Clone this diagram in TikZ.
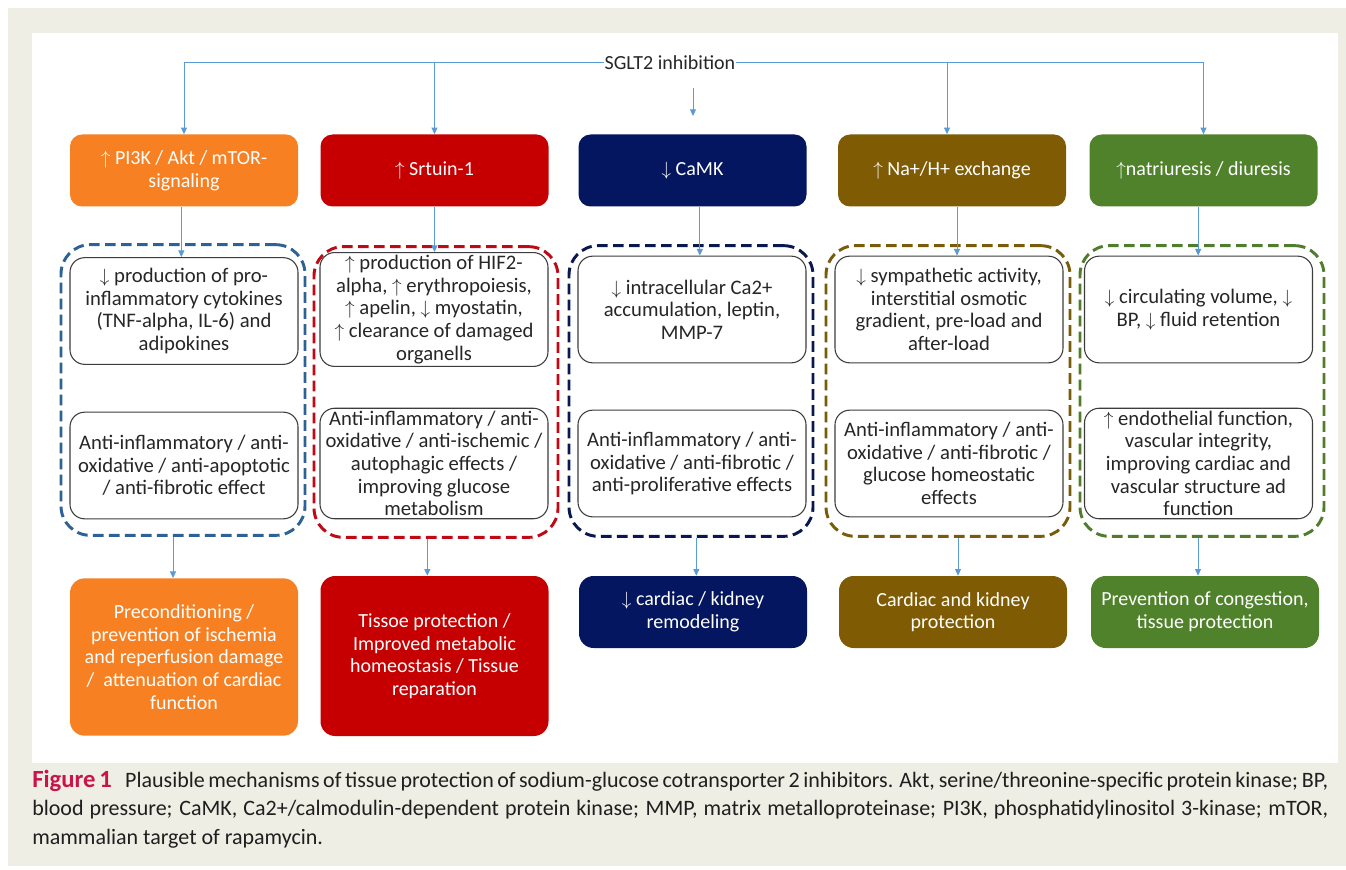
\documentclass[tikz,border=0pt]{standalone}
\usepackage{fontspec}
\setmainfont{Carlito}
\usetikzlibrary{arrows.meta}
\definecolor{bgbeige}{RGB}{238,238,228}
\definecolor{cOr}{RGB}{247,128,34}
\definecolor{cRd}{RGB}{198,0,0}
\definecolor{cNv}{RGB}{4,22,96}
\definecolor{cBr}{RGB}{127,92,4}
\definecolor{cGr}{RGB}{80,130,44}
\definecolor{dBl}{RGB}{46,98,150}
\definecolor{dRd}{RGB}{190,10,20}
\definecolor{dNv}{RGB}{10,24,80}
\definecolor{dBr}{RGB}{120,92,10}
\definecolor{dGr}{RGB}{80,125,45}
\definecolor{connc}{RGB}{91,155,213}
\definecolor{figred}{RGB}{200,20,72}
\definecolor{boxline}{RGB}{60,60,60}
\newcommand{\ua}{$\uparrow$}
\newcommand{\da}{$\downarrow$}
\begin{document}
\begin{tikzpicture}[x=0.75pt,y=-0.75pt,
  txt/.style={font=\fontsize{15}{17}\selectfont, align=center, inner sep=2pt},
  topbox/.style={txt, rounded corners=9pt, minimum width=171pt, minimum height=54pt, text=white, draw=none},
  botbox/.style={txt, rounded corners=11pt, minimum width=171pt, text=white, draw=none},
  innerbox/.style={txt, font=\fontsize{15.5}{17}\selectfont, rounded corners=11pt, draw=boxline, line width=0.8pt, fill=white, minimum width=171pt, minimum height=80pt, text=black!85},
  dashbox/.style={rounded corners=22pt, line width=2.2pt, dash pattern=on 8pt off 4pt, minimum width=183pt, minimum height=218pt, inner sep=0pt},
  conn/.style={draw=connc, line width=0.75pt, -{Triangle[width=4.5pt,length=5pt]}},
  plain/.style={draw=connc, line width=0.75pt}
]
\useasboundingbox (0,0) rectangle (1346,870);
\fill[white] (0,0) rectangle (1346,870);
\fill[bgbeige] (8,8) rectangle (1346,866);
\fill[white] (32,33) rectangle (1338,763);

% dashed groups
\node[dashbox, draw=dBl] (d1) at (183,390) {};
\node[dashbox, draw=dRd] (d2) at (436,392) {};
\node[dashbox, draw=dNv] (d3) at (691,391) {};
\node[dashbox, draw=dBr] (d4) at (948,391) {};
\node[dashbox, draw=dGr] (d5) at (1202,391) {};

% title
\node[txt, inner sep=0pt, text=black!85] (sglt) at (670,63) {SGLT2 inhibition};

% top row
\node[topbox, fill=cOr] (t1) at (184,170.5) {\ua\ PI3K / Akt / mTOR-\\signaling};
\node[topbox, fill=cRd] (t2) at (434.5,170.5) {\ua\ Srtuin-1};
\node[topbox, fill=cNv] (t3) at (692.5,170.5) {\da\ CaMK};
\node[topbox, fill=cBr] (t4) at (952,170.5) {\ua\ Na+/H+ exchange};
\node[topbox, fill=cGr] (t5) at (1203.5,170.5) {\ua natriuresis / diuresis};

% inner upper
\node[innerbox] (i1) at (184,311) {\da\ production of pro-\\inflammatory cytokines\\(TNF-alpha, IL-6) and\\adipokines};
\node[innerbox] (i2) at (434,309.5) {\ua\ production of HIF2-\\alpha, \ua\ erythropoiesis,\\\ua\ apelin, \da\ myostatin,\\\ua\ clearance of damaged\\organells};
\node[innerbox] (i3) at (692,309.5) {\da\ intracellular Ca2+\\accumulation, leptin,\\MMP-7};
\node[innerbox] (i4) at (949,309.5) {\da\ sympathetic activity,\\interstitial osmotic\\gradient, pre-load and\\after-load};
\node[innerbox] (i5) at (1198.5,309.5) {\da\ circulating volume, \da\\BP, \da\ fluid retention};

% inner lower
\node[innerbox] (j1) at (184,465.5) {Anti-inflammatory / anti-\\oxidative / anti-apoptotic\\/ anti-fibrotic effect};
\node[innerbox] (j2) at (434,463.5) {Anti-inflammatory / anti-\\oxidative / anti-ischemic /\\autophagic effects /\\improving glucose\\metabolism};
\node[innerbox] (j3) at (692,463.5) {Anti-inflammatory / anti-\\oxidative / anti-fibrotic /\\anti-proliferative effects};
\node[innerbox] (j4) at (949,463.5) {Anti-inflammatory / anti-\\oxidative / anti-fibrotic /\\glucose homeostatic\\effects};
\node[innerbox] (j5) at (1198.5,463.5) {\ua\ endothelial function,\\vascular integrity,\\improving cardiac and\\vascular structure ad\\function};

% bottom row
\node[botbox, fill=cOr, minimum height=118pt] (b1) at (184,657) {Preconditioning /\\prevention of ischemia\\and reperfusion damage\\/ \ attenuation of cardiac\\function};
\node[botbox, fill=cRd, minimum height=120pt] (b2) at (434.5,656) {Tissoe protection /\\Improved metabolic\\homeostasis / Tissue\\reparation};
\node[botbox, fill=cNv, minimum height=54pt] (b3) at (693,612) {\da\ cardiac / kidney\\remodeling};
\node[botbox, fill=cBr, minimum height=54pt] (b4) at (953,612) {Cardiac and kidney\\protection};
\node[botbox, fill=cGr, minimum height=54pt] (b5) at (1205,612) {Prevention of congestion,\\tissue protection};

% connectors from SGLT2
\draw[conn] (sglt.west) -| (t1.north);
\draw[conn] (sglt.west) -| (t2.north);
\draw[conn] (sglt.east) -| ([xshift=-3.75pt]t4.north);
\draw[conn] (sglt.east) -| (t5.north);
\coordinate (m0) at (693,88);
\coordinate (m1) at (693,116);
\draw[conn] (m0) -- (m1);

% top -> inner
\draw[conn] ([xshift=-2pt]t1.south) -- ([xshift=-2pt]i1.north);
\draw[conn] (t2.south) -- (t2.south |- i2.north);
\draw[conn] ([xshift=5.5pt]t3.south) -- ([xshift=5.5pt]t3.south |- i3.north);
\draw[conn] ([xshift=3.75pt]t4.south) -- ([xshift=3.75pt]t4.south |- i4.north);
\draw[conn] ([xshift=-4pt]t5.south) -- ([xshift=-4pt]t5.south |- i5.north);

% group -> bottom
\draw[conn] ([xshift=-7.5pt]d1.south) -- ([xshift=-7.5pt]d1.south |- b1.north);
\draw[conn] ([xshift=-6.5pt]d2.south) -- ([xshift=-6.5pt]d2.south |- b2.north);
\draw[conn] ([xshift=4pt]d3.south) -- ([xshift=4pt]d3.south |- b3.north);
\draw[conn] ([xshift=7.5pt]d4.south) -- ([xshift=7.5pt]d4.south |- b4.north);
\draw[conn] ([xshift=-3pt]d5.south) -- ([xshift=-3pt]d5.south |- b5.north);

% caption
\node[anchor=base west, inner sep=0pt, text width=972pt, align=justify,
      font=\fontsize{16.5}{21.5}\selectfont, text=black!88] (cap) at (32,787)
{\hyphenpenalty=10000{\fontsize{18.5}{21.5}\selectfont\bfseries\color{figred}Figure 1}\hspace{0.6em}Plausible mechanisms of tissue protection of sodium-glucose cotransporter 2 inhibitors. Akt, serine/threonine-specific protein kinase; BP,\linebreak blood pressure; CaMK, Ca2+/calmodulin-dependent protein kinase; MMP, matrix metalloproteinase; PI3K, phosphatidylinositol 3-kinase; mTOR,\linebreak mammalian target of rapamycin.};
\end{tikzpicture}
\end{document}
